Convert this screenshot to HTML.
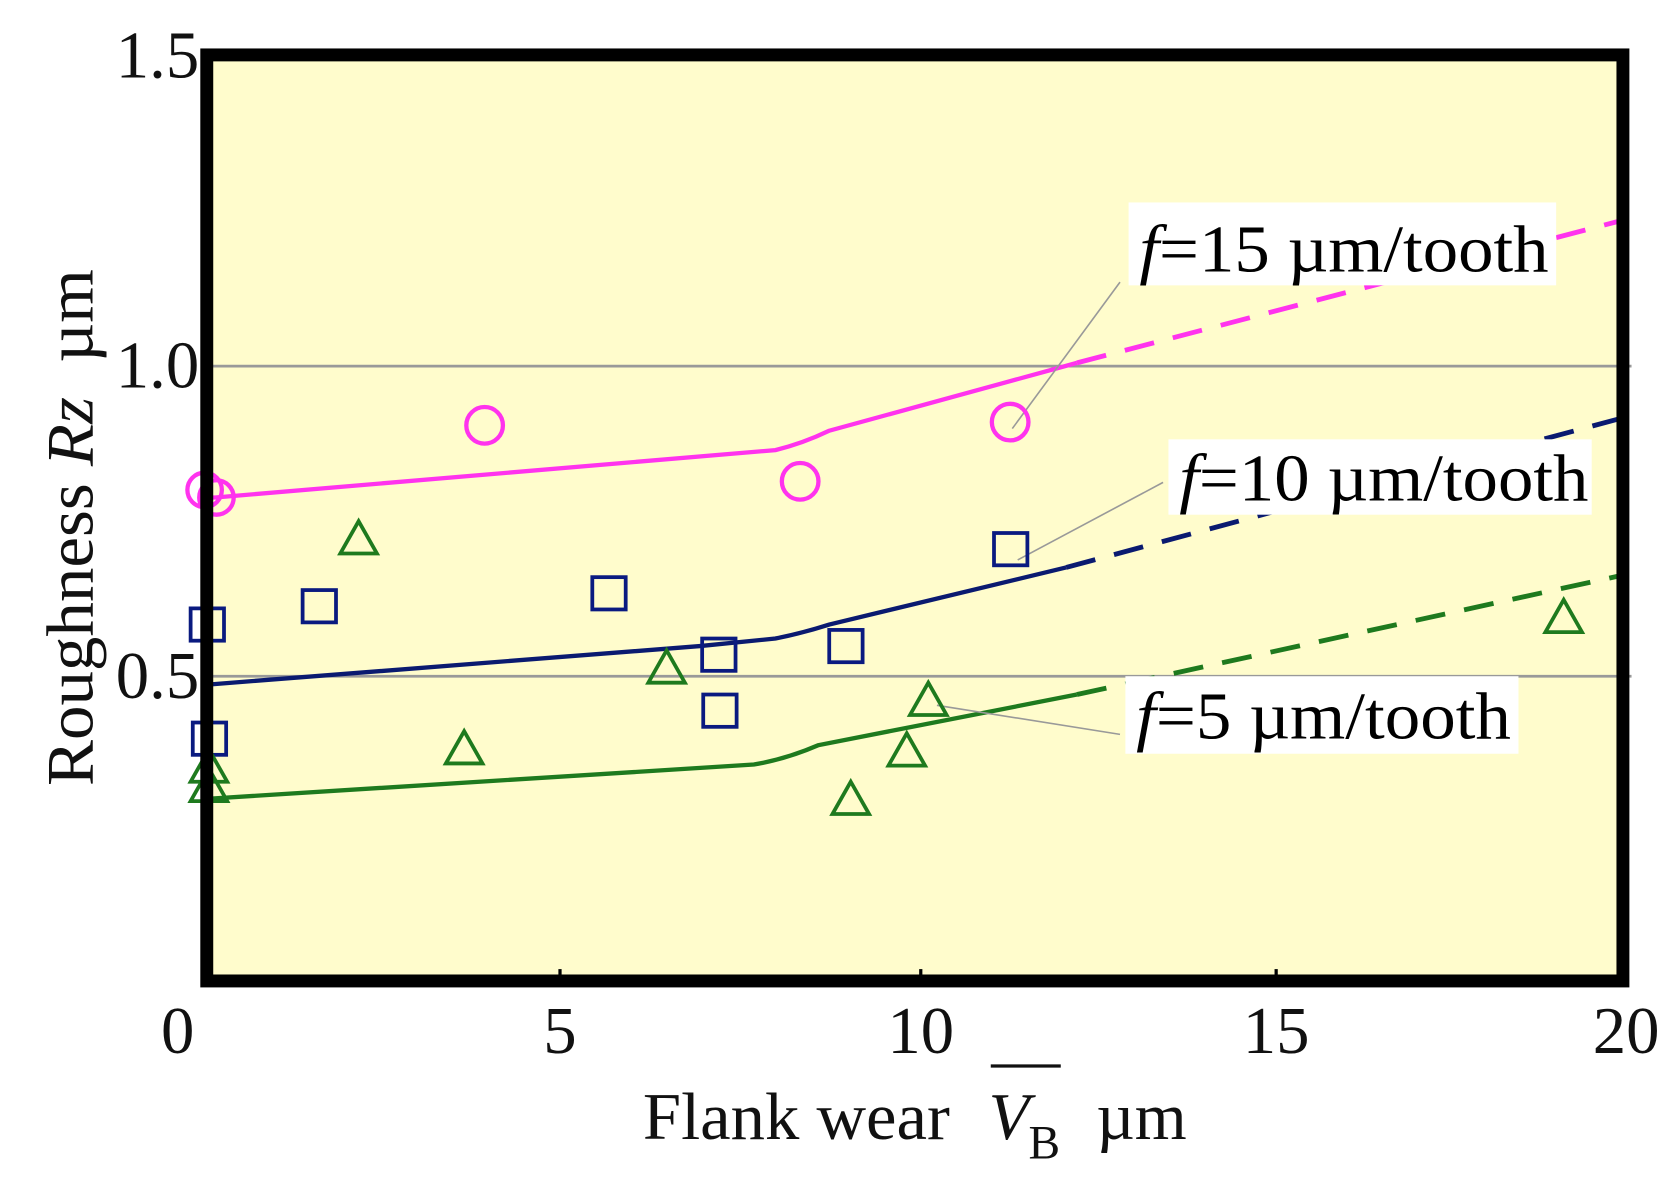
<!DOCTYPE html>
<html><head><style>html,body{margin:0;padding:0;background:#fff;width:1680px;height:1192px;overflow:hidden}</style></head>
<body>
<svg width="1680" height="1192" viewBox="0 0 1560 1107" preserveAspectRatio="none" xmlns="http://www.w3.org/2000/svg" font-family="Liberation Serif, serif">
<rect x="192" y="51" width="1315" height="860" fill="#fffccc"/>
<line x1="192" y1="340" x2="1515" y2="340" stroke="#999" stroke-width="2.5"/>
<line x1="192" y1="628" x2="1515" y2="628" stroke="#999" stroke-width="2.5"/>
<g stroke="#000" stroke-width="3">
<line x1="520" y1="911" x2="520" y2="900"/><line x1="855" y1="911" x2="855" y2="900"/><line x1="1185" y1="911" x2="1185" y2="900"/>
</g>
<path d="M190,462 L200,462 L720,418 Q745,412 770,400 L1000,337" fill="none" stroke="#ff33ee" stroke-width="4"/>
<path d="M1000,337 L1505,205" fill="none" stroke="#ff33ee" stroke-width="4.5" stroke-dasharray="28,18"/>
<path d="M190,636 L650,600 L720,593 Q745,588 770,580 L990,527" fill="none" stroke="#0a1a70" stroke-width="4"/>
<path d="M990,527 L1507,388" fill="none" stroke="#0a1a70" stroke-width="4.5" stroke-dasharray="28,18"/>
<path d="M190,742 L700,710 Q730,705 760,692 L1000,645" fill="none" stroke="#1e7a1e" stroke-width="4"/>
<path d="M1000,645 L1512,533" fill="none" stroke="#1e7a1e" stroke-width="4.5" stroke-dasharray="28,18"/>
<g stroke="#999" stroke-width="1.5">
<line x1="1040" y1="262" x2="940" y2="398"/>
<line x1="1080" y1="448" x2="945" y2="520"/>
<line x1="1040" y1="682" x2="870" y2="655"/>
</g>
<rect x="1048" y="188" width="397" height="77" fill="#fff"/>
<rect x="1085" y="408" width="393" height="70" fill="#fff"/>
<rect x="1045" y="628" width="365" height="72" fill="#fff"/>
<g font-size="62" fill="#000">
<text x="1058" y="252" textLength="380" lengthAdjust="spacingAndGlyphs"><tspan font-style="italic">f</tspan>=15 µm/tooth</text>
<text x="1095" y="465" textLength="380" lengthAdjust="spacingAndGlyphs"><tspan font-style="italic">f</tspan>=10 µm/tooth</text>
<text x="1055" y="686" textLength="348" lengthAdjust="spacingAndGlyphs"><tspan font-style="italic">f</tspan>=5 µm/tooth</text>
</g>
<g fill="none" stroke="#ff33ee" stroke-width="4">
<circle cx="190" cy="455" r="16"/><circle cx="201" cy="462" r="16"/><circle cx="450" cy="395" r="17"/><circle cx="743" cy="447" r="17"/><circle cx="938" cy="392" r="17"/>
</g>
<g fill="none" stroke="#0a1a80" stroke-width="3.5">
<rect x="177" y="565" width="31" height="30"/><rect x="281" y="548" width="31" height="30"/><rect x="550" y="536" width="31" height="30"/><rect x="652" y="593" width="31" height="30"/><rect x="653" y="645" width="31" height="30"/><rect x="770" y="585" width="31" height="30"/><rect x="923" y="495" width="31" height="30"/><rect x="179" y="671" width="31" height="30"/>
</g>
<g fill="none" stroke="#1e7a1e" stroke-width="3.5">
<path d="M333,484 L350,514 L316,514Z"/><path d="M194,696 L211,726 L177,726Z"/><path d="M194,714 L211,744 L177,744Z"/><path d="M431,679 L448,709 L414,709Z"/><path d="M619,604 L636,634 L602,634Z"/><path d="M790,726 L807,756 L773,756Z"/><path d="M842,681 L859,711 L825,711Z"/><path d="M862,634 L879,664 L845,664Z"/><path d="M1452,557 L1469,587 L1435,587Z"/>
</g>
<rect x="192" y="51" width="1315" height="860" fill="none" stroke="#000" stroke-width="12"/>
<g font-size="62" fill="#111">
<text x="185" y="72" text-anchor="end">1.5</text>
<text x="185" y="360" text-anchor="end">1.0</text>
<text x="185" y="648" text-anchor="end">0.5</text>
<text x="165" y="978" text-anchor="middle">0</text>
<text x="520" y="978" text-anchor="middle">5</text>
<text x="855" y="978" text-anchor="middle">10</text>
<text x="1185" y="978" text-anchor="middle">15</text>
<text x="1510" y="978" text-anchor="middle">20</text>
<text transform="translate(86,490) rotate(-90)" text-anchor="middle" textLength="480" lengthAdjust="spacingAndGlyphs" xml:space="preserve">Roughness <tspan font-style="italic">Rz</tspan>  µm</text>
<text x="597" y="1058" textLength="285" lengthAdjust="spacingAndGlyphs">Flank wear</text>
<text x="918" y="1058" font-style="italic">V</text>
<text x="955" y="1076" font-size="44">B</text>
<text x="1018" y="1058">µm</text>
</g>
<line x1="920" y1="990" x2="985" y2="990" stroke="#111" stroke-width="3"/>
</svg>
</body></html>
